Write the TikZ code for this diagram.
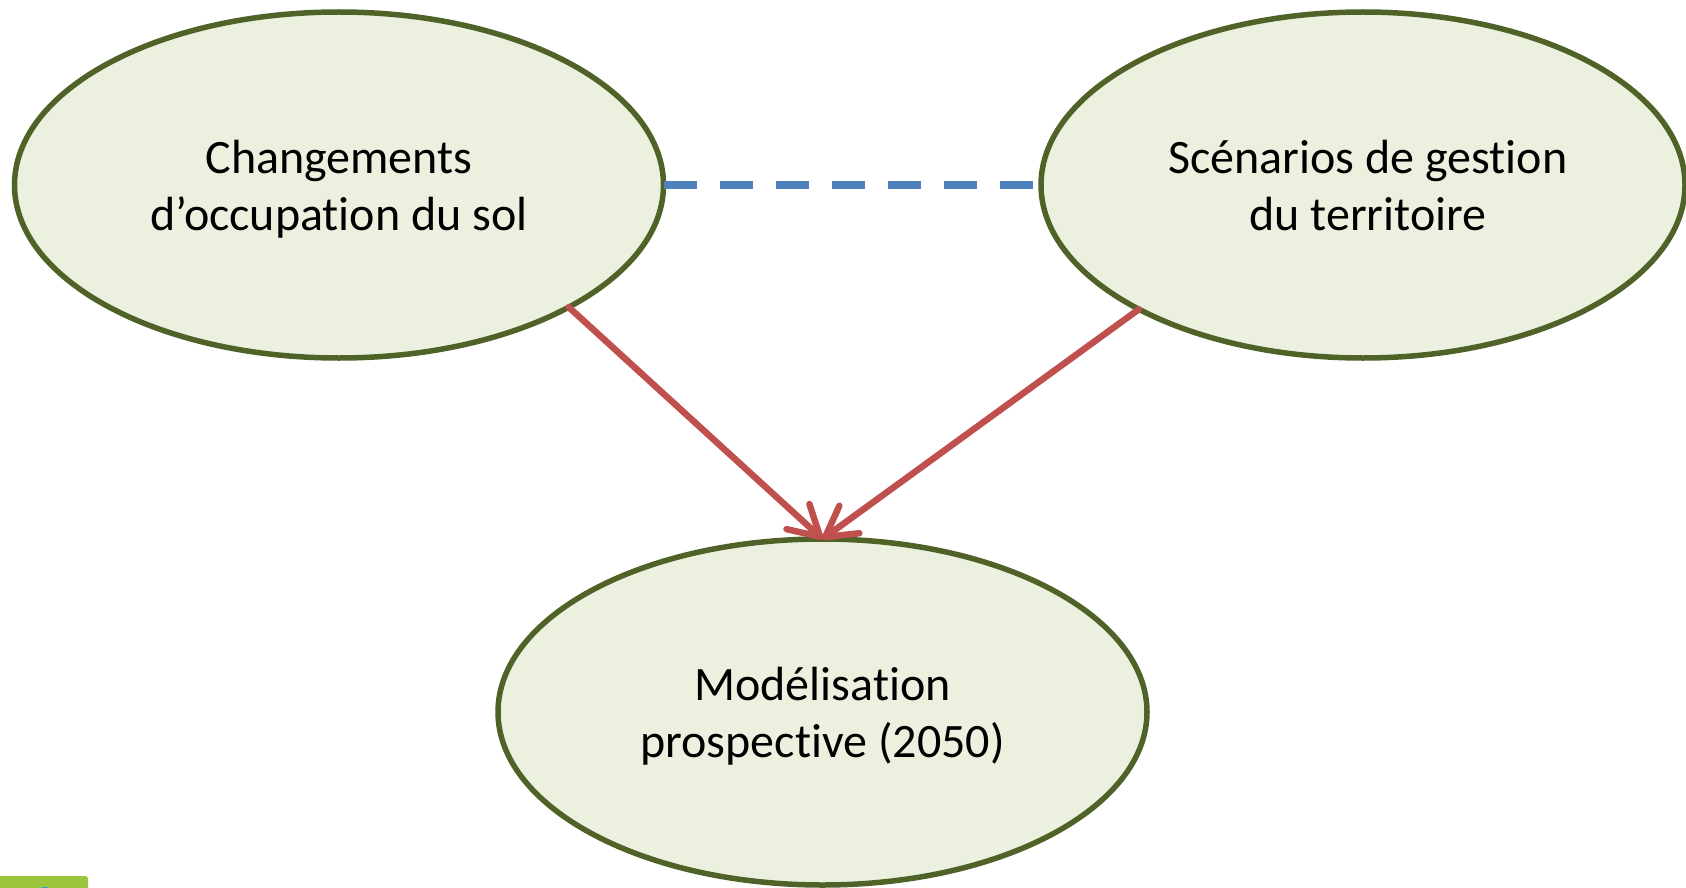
\documentclass[tikz,border=0pt]{standalone}
\usepackage{fontspec}
\setmainfont[Ligatures=NoCommon,RawFeature=-liga]{Carlito}
\usetikzlibrary{shapes.geometric,arrows.meta}
\definecolor{ellfill}{HTML}{EBF1DE}
\definecolor{elldraw}{HTML}{4F6228}
\definecolor{dashblue}{HTML}{4F81BD}
\definecolor{arrred}{HTML}{C0504D}
\definecolor{logogreen}{HTML}{9BC63B}
\definecolor{logoblue}{HTML}{1FA0DC}
\newcommand{\lnstrut}{\vphantom{hgp}}
\tikzset{
  bubble/.style={ellipse, draw=elldraw, fill=ellfill, line width=5.5pt,
    minimum width=649pt, minimum height=346pt, inner sep=0pt, outer sep=0pt},
  caption/.style={align=center, inner sep=0pt, font=\fontsize{48}{57}\selectfont},
  link/.style={draw=dashblue, line width=8pt, dash pattern=on 33pt off 23pt},
  flow/.style={draw=arrred, line width=6.5pt, line cap=round,
    -{Straight Barb[length=30pt 0 0, width=34pt 0 0, line cap=round, line join=round]}}
}
\begin{document}
\begin{tikzpicture}[x=1pt, y=-1pt]
\useasboundingbox (0,0) rectangle (1686,888);
\node[bubble] (a) at (339,185) {};
\node[bubble, minimum width=644pt] (b) at (1363,185) {};
\node[bubble] (c) at (822.5,712) {};
\node[caption] (at) at ([yshift=-4pt]a.center) {\lnstrut Changements\\\lnstrut d’occupation du sol};
\node[caption] (bt) at ([xshift=5pt,yshift=-4pt]b.center) {\lnstrut Scénarios de gestion\\\lnstrut du territoire};
\node[caption] (ct) at ([yshift=-4pt]c.center) {\lnstrut Modélisation\\\lnstrut prospective (2050)};
\draw[link] (a.east) -- (b.west);
\draw[flow] (a.-28) -- (c.north);
\draw[flow] (b.-151) -- (c.north);
\begin{scope}
\clip (0,876) rectangle (88,888);
\fill[logogreen] (0,876) -- (86,876) -- (88,878) -- (88,888) -- (0,888) -- cycle;
\fill[logoblue] (45,892) ellipse (8pt and 5pt);
\end{scope}
\end{tikzpicture}
\end{document}
